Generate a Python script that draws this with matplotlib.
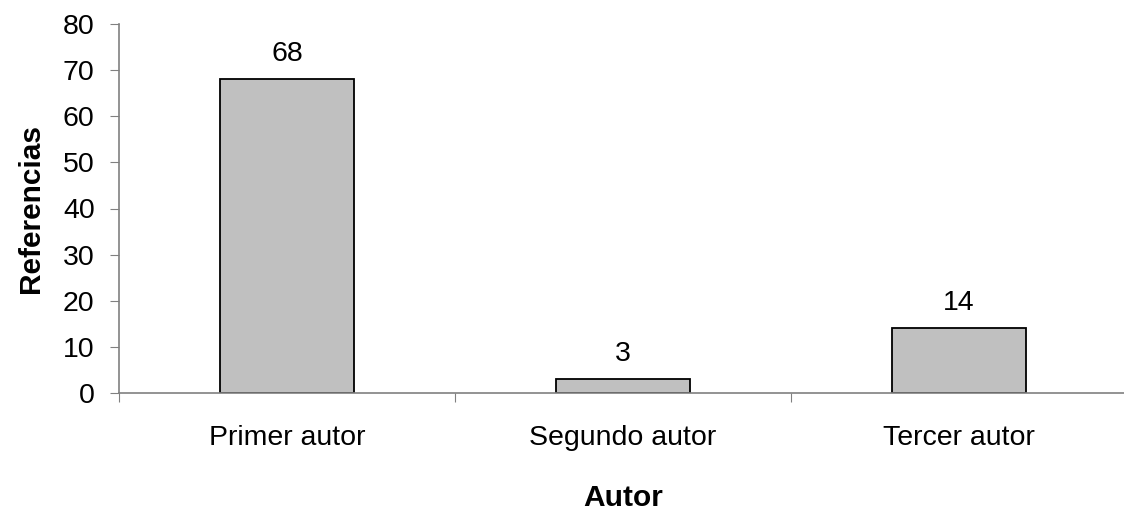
import matplotlib.pyplot as plt
import numpy as np

plt.rcParams['font.family'] = ['Liberation Sans', 'DejaVu Sans']

categories = ['Primer autor', 'Segundo autor', 'Tercer autor']
values = [68, 3, 14]
yticks = [0, 10, 20, 30, 40, 50, 60, 70, 80]

fig = plt.figure(figsize=(11.24, 5.12), dpi=100)
ax = fig.add_axes([119 / 1124, 1 - 393 / 512, 1008 / 1124, 369 / 512])

x = np.arange(len(categories))
bars = ax.bar(x, values, width=0.4, color='#c0c0c0', edgecolor='black', linewidth=1.3)

for xi, v in zip(x, values):
    ax.annotate(str(v), (xi, v), xytext=(0, 9), textcoords='offset points',
                ha='center', va='bottom', fontsize=20.5)

ax.set_xlim(-0.5, len(categories) - 0.5)
ax.set_ylim(0, 80)
ax.set_yticks(yticks)
ax.tick_params(axis='y', labelsize=20.5, length=6.5, color='#808080', pad=11)

# category boundaries carry the tick marks, labels sit in the middle
ax.set_xticks(np.arange(len(categories) + 1) - 0.5)
ax.set_xticklabels([])
ax.set_xticks(x, minor=True)
ax.set_xticklabels(categories, minor=True)
ax.tick_params(axis='x', which='major', length=6.5, color='#808080')
ax.tick_params(axis='x', which='minor', length=0, labelsize=20.5, pad=23)

for side in ['top', 'right']:
    ax.spines[side].set_visible(False)
for side in ['left', 'bottom']:
    ax.spines[side].set_color('#808080')
    ax.spines[side].set_linewidth(1.2)

ax.set_ylabel('Referencias', fontsize=21.5, fontweight='bold', labelpad=13)
ax.set_xlabel('Autor', fontsize=21.5, fontweight='bold', labelpad=24)

fig.savefig('out.png', dpi=100)
